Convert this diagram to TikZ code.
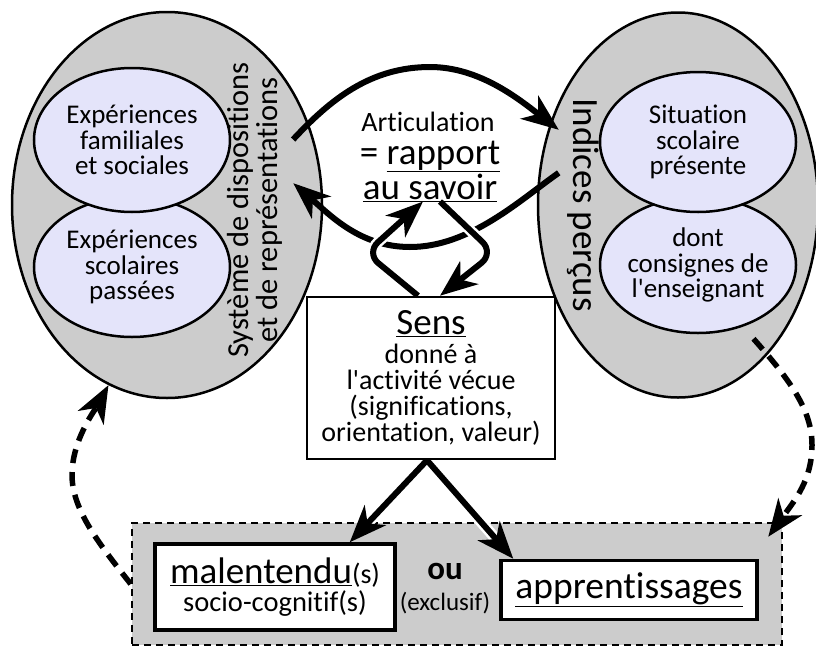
\documentclass[tikz,border=0pt]{standalone}
\usepackage{fontspec}
\setmainfont{Carlito}[Ligatures={NoCommon}]
\usetikzlibrary{arrows.meta,shapes.geometric}

\begin{document}
\begin{tikzpicture}[
  x=1pt,y=-1pt,
  >={Stealth[length=37pt,width=29pt,inset=11pt]},
  blob/.style={ellipse,draw,fill=gray!40,line width=2.5pt,inner sep=0pt},
  bubble/.style={ellipse,draw,fill=lav,line width=2.5pt,align=center,
    inner xsep=-6pt,inner ysep=0pt,minimum width=196pt,minimum height=140pt,
    font=\fontsize{27}{25.5}\selectfont},
  txt/.style={align=center,inner sep=0pt},
  frame/.style={draw,fill=white,align=center,inner sep=0pt},
  flow/.style={->,line width=6pt},
  halo/.style={preaction={draw=white,line width=11pt,-,
    shorten >=22pt,shorten <=14pt}},
  dashflow/.style={->,line width=5.5pt,dash pattern=on 14pt off 9pt}]

  \definecolor{lav}{RGB}{228,228,250}
  \useasboundingbox (0,0) rectangle (816,648);

  % ---- outcome band ----
  \node[draw,fill=gray!40,line width=2.5pt,dash pattern=on 7pt off 5pt,
    minimum width=650pt,minimum height=122pt] (outcome) at (457,584) {};

  % ---- left: dispositions ----
  \node[blob,minimum width=310pt,minimum height=386pt] (sysd) at (167,205) {};
  \node[bubble] (expsco) at (132,267) {Expériences\\scolaires\\passées};
  \node[bubble,minimum height=144pt] (expfam) at (132,140)
    {Expériences\\familiales\\et sociales};
  \node[txt,rotate=90,font=\fontsize{30.5}{28.5}\selectfont] (syslab) at (255,210)
    {Système de dispositions\\et de représentations};

  % ---- right: perceived cues ----
  \node[blob,minimum width=280pt,minimum height=385pt] (indic) at (678,205) {};
  \node[bubble,minimum height=136pt] (consig) at (698,265)
    {dont\\consignes de\\l\textquotesingle{}enseignant};
  \node[bubble] (sitsco) at (698,142) {Situation\\scolaire\\présente};
  \node[txt,rotate=-90,font=\fontsize{37}{37}\selectfont] (indlab) at (583,205)
    {Indices perçus};

  % ---- centre ----
  \node[txt,font=\fontsize{28}{28}\selectfont] (artic) at (428,122) {Articulation};
  \node[txt,font=\fontsize{37}{35}\selectfont] (rapport) at (430,171)
    {= \underline{rapport}\\\underline{au savoir}};

  % ---- sense ----
  \node[frame,line width=2.5pt,minimum width=248pt,minimum height=162pt,
    font=\fontsize{28}{26}\selectfont] (sens) at (431,378)
    {{\fontsize{37}{37}\selectfont\underline{Sens}}\\[3pt]donné à\\
     l\textquotesingle{}activité vécue\\(significations,\\orientation, valeur)};

  % ---- outcomes ----
  \node[frame,line width=3.5pt,minimum width=240pt,minimum height=86pt] (mal)
    at (275,587)
    {\fontsize{37}{37}\selectfont\underline{malentendu}{\fontsize{28}{28}\selectfont(s)}\\[3pt]
     \fontsize{28.5}{27}\selectfont socio-cognitif(s)};
  \node[txt,font=\bfseries\fontsize{33}{33}\selectfont] (ou) at (445,571) {ou};
  \node[txt,font=\fontsize{25}{25}\selectfont] (excl) at (445,603) {(exclusif)};
  \node[frame,line width=3.5pt,minimum width=256pt,minimum height=59pt,
    font=\fontsize{37.5}{37.5}\selectfont] (appr) at (629,590)
    {\underline{apprentissages}};

  % ---- arcs between the ellipses ----
  \draw[flow] ([xshift=-21pt]sysd.24) .. controls (330,100) and (370,67) .. (430,67)
    .. controls (480,67) and (520,100) .. ([xshift=11pt]indic.150);
  \draw[flow] ([xshift=20pt]indic.167) .. controls (520,200) and (470,247) .. (410,247)
    .. controls (360,247) and (330,215) .. ([xshift=-29pt]sysd.8);

  % ---- small loop ----
  \draw[flow,halo,rounded corners=16pt] ([xshift=-13pt]sens.north) -- (366,253)
    -- ([xshift=-7pt]rapport.south);
  \draw[flow,halo,rounded corners=16pt] ([xshift=10pt]rapport.south) -- (494,253)
    -- ([xshift=9pt]sens.north);

  % ---- sense leads to outcomes ----
  \draw[flow,halo] ([xshift=-4pt]sens.south) -- ([xshift=-47pt]mal.north east);
  \draw[flow,halo] ([xshift=-4pt]sens.south) -- ([xshift=14pt]appr.north west);

  % ---- feedback ----
  \draw[dashflow] (outcome.west) .. controls (100,545) and (72,510) .. (72,475)
    .. controls (72,440) and (95,410) .. (sysd.252);
  \draw[dashflow,shorten <=16pt] (consig.306) .. controls (790,380) and (812,410)
    .. (812,445) .. controls (812,480) and (795,500)
    .. ([xshift=-15pt,yshift=-15pt]outcome.north east);
\end{tikzpicture}
\end{document}
